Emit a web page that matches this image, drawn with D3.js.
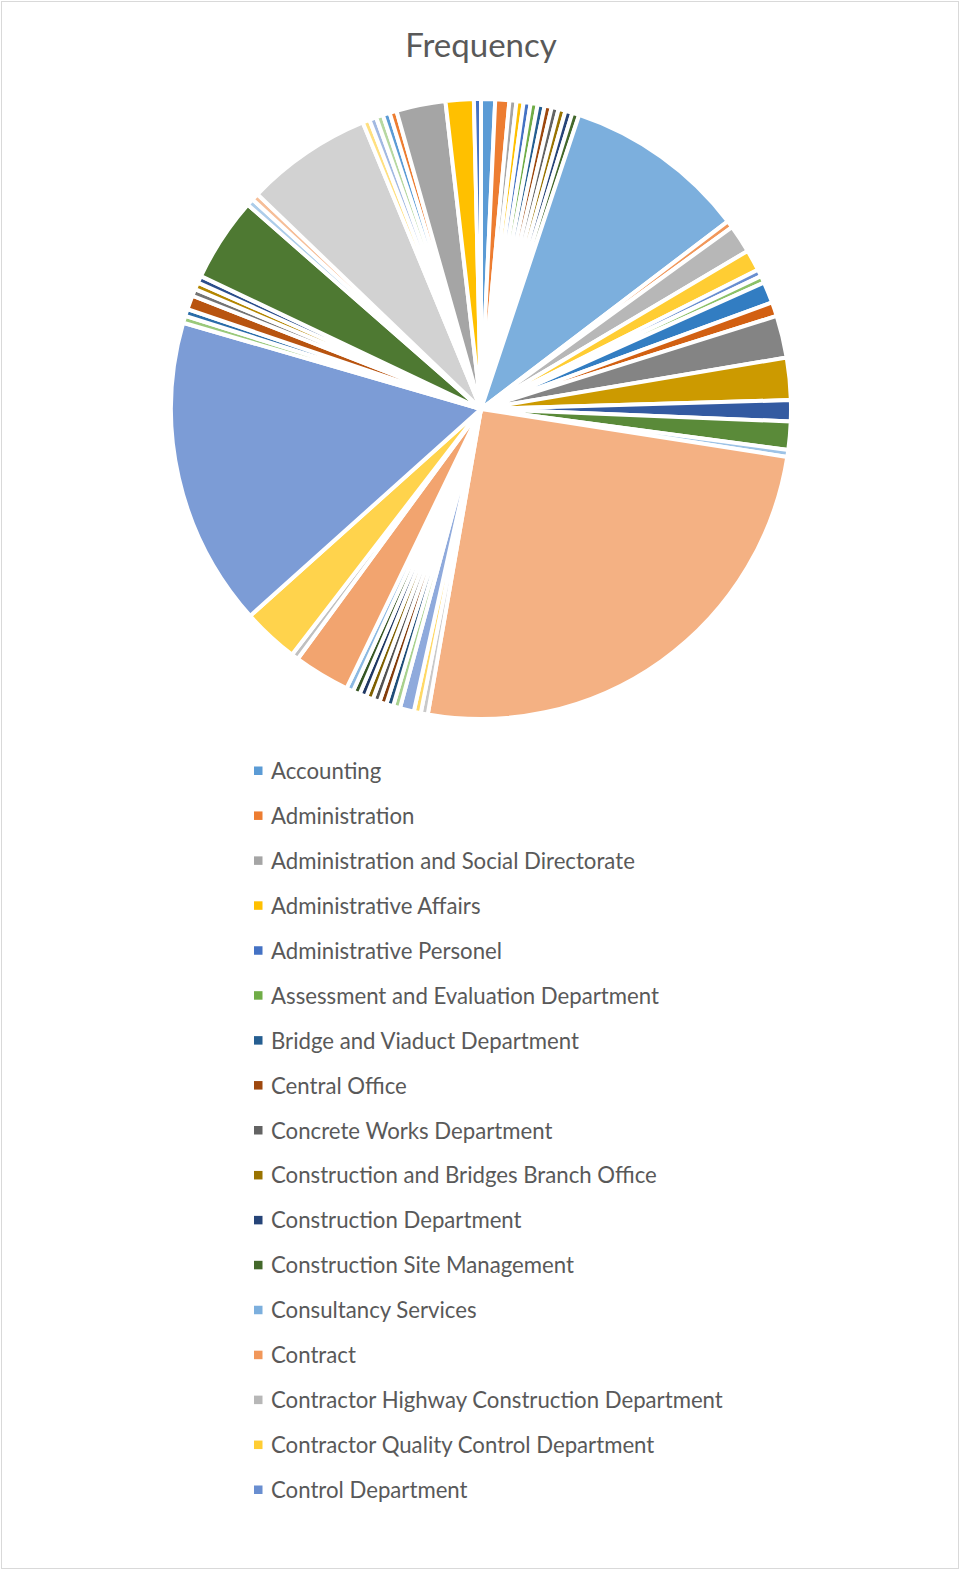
<!DOCTYPE html>
<html>
<head>
<meta charset="utf-8">
<script src="https://cdn.jsdelivr.net/npm/d3@7"></script>
<style>
  body { margin: 0; background: #ffffff; }
  svg text { font-family: "Lato", "Open Sans", sans-serif; fill: #595959; }
</style>
</head>
<body>
<svg id="chart" width="961" height="1571"></svg>
<script>
// Departments in the order they appear around the pie (clockwise from 12 o'clock)
const departments = [
  "Accounting",
  "Administration",
  "Administration and Social Directorate",
  "Administrative Affairs",
  "Administrative Personel",
  "Assessment and Evaluation Department",
  "Bridge and Viaduct Department",
  "Central Office",
  "Concrete Works Department",
  "Construction and Bridges Branch Office",
  "Construction Department",
  "Construction Site Management",
  "Consultancy Services",
  "Contract",
  "Contractor Highway Construction Department",
  "Contractor Quality Control Department",
  "Control Department",
  "Coordination Department",
  "Cost Control Department",
  "Design Department",
  "Design and Planning Department",
  "Directorate of Operations",
  "Electrical Department",
  "Engineering Department",
  "Environmental Department",
  "Field Operations",
  "Finance Department",
  "General Directorate",
  "General Services",
  "Geotechnical Department",
  "Highway Department",
  "Human Resources",
  "Information Technology",
  "Inspection Department",
  "Laboratory",
  "Legal Affairs",
  "Logistics",
  "Maintenance Department",
  "Management",
  "Materials Department",
  "Planning Department",
  "Procurement",
  "Production Department",
  "Project Control",
  "Project Management",
  "Public Relations",
  "Purchasing",
  "Quality Assurance",
  "Quality Control",
  "Research and Development",
  "Road Department",
  "Safety Department",
  "Site Engineering",
  "Structural Department",
  "Supervision Department",
  "Survey Department",
  "Technical Department",
  "Technical Office",
  "Transportation Department"
];

// Frequency per department
const frequency = [
  2, 2, 1, 1, 1, 1, 1, 1, 1, 1, 1, 1,
  26, 1, 4, 3, 1, 1, 3, 2, 6, 6, 3, 4, 1,
  69, 1, 1, 2, 1, 1, 1, 1, 1, 1, 1, 1,
  8, 1, 8, 44, 1, 1, 2, 1, 1, 1, 12,
  1, 1, 18, 1, 1, 1, 1, 1, 7, 4, 1
];

// Only the first entries fit in the legend area
const legendCount = 17;

const chartTitle = "Frequency";

// Office theme accents and the luminance variations applied on each pass
const accentColors = ["#5B9BD5", "#ED7D31", "#A5A5A5", "#FFC000", "#4472C4", "#70AD47"];
const lumVariations = [
  [1, 0], [0.6, 0], [0.8, 0.2], [0.8, 0], [0.6, 0.4],
  [0.5, 0], [0.7, 0.3], [0.7, 0], [0.5, 0.5]
];

function seriesColor(i) {
  const base = d3.hsl(accentColors[i % accentColors.length]);
  const [mod, off] = lumVariations[Math.floor(i / accentColors.length) % lumVariations.length];
  return d3.hsl(base.h, base.s, Math.min(1, base.l * mod + off)).formatHex();
}

const data = departments.map((name, i) => ({ name, value: frequency[i] }));
const color = d3.scaleOrdinal()
  .domain(departments)
  .range(departments.map((_, i) => seriesColor(i)));

const svg = d3.select("#chart");
const W = 961, H = 1571;

// Chart area frame
svg.append("rect")
  .attr("x", 1.5).attr("y", 1.5)
  .attr("width", W - 4).attr("height", H - 4)
  .attr("fill", "#ffffff")
  .attr("stroke", "#d9d9d9")
  .attr("stroke-width", 1);

svg.append("text")
  .attr("x", 481)
  .attr("y", 57)
  .attr("text-anchor", "middle")
  .style("font-size", "33px")
  .text(chartTitle);

// Pie
const cx = 481, cy = 409, radius = 310;
const pie = d3.pie().value(d => d.value).sort(null);
const arc = d3.arc().innerRadius(0).outerRadius(radius);

svg.append("g")
  .attr("transform", `translate(${cx},${cy})`)
  .selectAll("path")
  .data(pie(data))
  .join("path")
  .attr("d", arc)
  .attr("fill", d => color(d.data.name))
  .attr("stroke", "#ffffff")
  .attr("stroke-width", 4)
  .attr("stroke-linejoin", "round");

// Legend
const legendItems = departments.slice(0, legendCount);
const legendY = d3.scalePoint()
  .domain(legendItems)
  .range([771, 1490]);

const legend = svg.append("g")
  .selectAll("g")
  .data(legendItems)
  .join("g")
  .attr("transform", d => `translate(254,${legendY(d)})`);

legend.append("rect")
  .attr("x", 0).attr("y", -4.5)
  .attr("width", 8.5).attr("height", 8.5)
  .attr("fill", d => color(d));

legend.append("text")
  .attr("x", 17)
  .attr("y", 0)
  .attr("dy", "0.36em")
  .style("font-size", "22.2px")
  .text(d => d);
</script>
</body>
</html>
